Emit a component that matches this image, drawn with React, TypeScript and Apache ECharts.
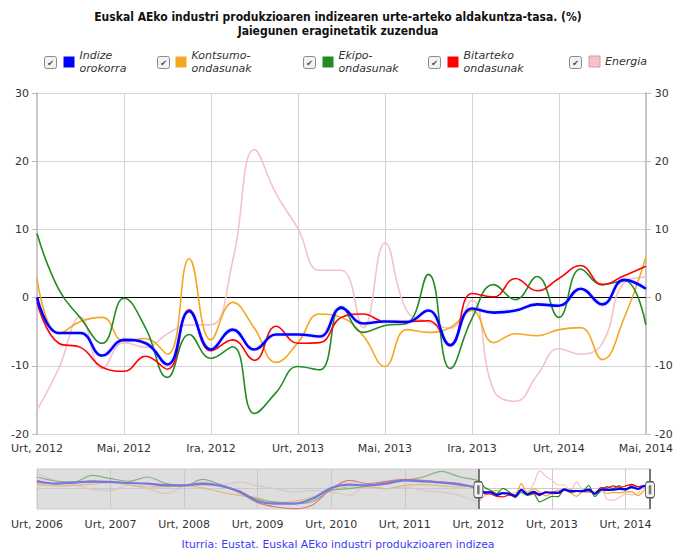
import React, { useEffect, useRef } from "react";
import * as echarts from "echarts";

// ---- Data ----
const monthNames = ["Urt", "Ots", "Mar", "Api", "Mai", "Eka", "Uzt", "Abu", "Ira", "Urr", "Aza", "Abe"];
const categories: string[] = [];
for (let y = 2012; y <= 2014; y++) {
  for (let m = 0; m < 12; m++) {
    if (y === 2014 && m > 4) break;
    categories.push(monthNames[m] + ", " + y);
  }
}

const seriesNames = ["Indize orokorra", "Kontsumo-ondasunak", "Ekipo-ondasunak", "Bitarteko ondasunak", "Energia"];
const legendLabels = ["Indize\norokorra", "Kontsumo-\nondasunak", "Ekipo-\nondasunak", "Bitarteko\nondasunak", "Energia"];
const colors = ["#0000ff", "#f5a623", "#228b22", "#ff0000", "#f4c2c8"];

const indize = [0, -5.2, -5.2, -8.5, -6.2, -6.7, -9.8, -2.0, -7.6, -4.7, -7.6, -5.4, -5.4, -5.7, -1.5, -3.8, -3.5, -3.6, -1.9, -7.0, -1.6, -2.2, -1.9, -1.0, -1.2, 1.3, -1.0, 2.6, 1.3];
const kontsumo = [2.8, -5.3, -3.5, -2.9, -6.4, -6.0, -8.3, 5.7, -6.2, -0.7, -4.5, -9.5, -6.6, -2.4, -2.9, -5.6, -10.1, -4.7, -5.1, -4.4, -1.9, -6.6, -5.3, -5.6, -4.7, -4.4, -9.1, -3.0, 5.9];
const ekipo = [9.4, 1.2, -3.0, -6.7, -0.1, -4.5, -11.7, -5.4, -8.9, -7.2, -17.0, -13.9, -10.1, -10.6, -1.3, -5.1, -4.1, -3.8, 3.4, -10.4, -3.1, 1.9, -0.3, 3.1, -2.9, 4.2, 1.9, 2.5, -4.0];
const bitarteko = [-0.7, -6.7, -7.3, -10.2, -10.8, -8.6, -10.5, -1.8, -7.8, -6.2, -9.2, -4.2, -6.7, -6.6, -2.9, -2.4, -3.5, -3.5, -3.4, -6.9, 0.6, 0.1, 2.8, 1.0, 2.8, 4.7, 1.9, 3.2, 4.6];
const energia = [-16.5, -10.4, -2.8, -10.4, -6.6, -7.3, -5.3, -4.0, -4.0, 5.4, 21.7, 15.2, 10.1, 4.0, 4.0, -4.4, 8.0, -1.9, -3.6, -4.5, -0.4, -13.6, -15.2, -11.4, -7.5, -8.3, -6.7, 2.2, 3.0];
const mainData = [indize, kontsumo, ekipo, bitarteko, energia];

// history for navigator preview (months since Jan 2006, quarterly readings)
const histMonths = [0, 3, 6, 9, 12, 15, 18, 21, 24, 27, 30, 33, 36, 39, 42, 45, 48, 51, 54, 57, 60, 63, 66, 69];
const indizeHist = [9.0, 5.7, 7.0, 8.6, 7.8, 6.5, 5.7, 3.6, 3.6, 5.7, 2.8, -3.9, -16.4, -19.3, -19.3, -13.0, 0.3, 4.4, 3.6, 5.7, 9.8, 8.6, 7.0, 4.4];
const kontsumoHist = [4.4, 3.0, 3.6, 5.0, 7.0, 4.0, 1.5, 2.0, 2.8, 0.3, -4.8, -8.9, -12.2, -18.0, -16.4, -11.0, -2.7, 1.5, 1.5, -0.6, 3.6, 4.4, 2.8, 1.5];
const ekipoHist = [14.0, 9.0, 7.8, 16.0, 12.0, 8.6, 14.0, 6.0, 2.8, 11.0, 4.4, -4.8, -13.9, -17.2, -19.3, -16.4, -2.7, -0.6, 2.8, 7.8, 9.8, 14.0, 21.0, 14.0];
const bitartekoHist = [7.0, 6.0, 7.0, 7.5, 7.8, 6.5, 5.7, 4.5, 3.6, 4.4, 2.8, -5.6, -18.0, -23.5, -25.6, -20.6, -0.6, 9.8, 5.7, 8.6, 11.0, 9.8, 7.8, 5.7];
const energiaHist = [18.2, 9.8, 4.4, -1.4, -2.7, 3.6, -0.6, -6.8, 2.8, 7.0, 3.6, 7.8, 2.8, -0.6, -4.8, -2.7, -4.8, -8.9, 3.6, -0.6, 1.5, -2.7, -4.8, -8.9];
const histData = [indizeHist, kontsumoHist, ekipoHist, bitartekoHist, energiaHist];

const yTicks = { min: -20, max: 30, interval: 10 };
const navStartYear = 2006;
const selectedStart = 72; // Jan 2012 in months since Jan 2006
const navEnd = 100; // May 2014

const titleLines = ["Euskal AEko industri produkzioaren indizearen urte-arteko aldakuntza-tasa. (%)", "Jaiegunen eraginetatik zuzendua"];
const sourceText = "Iturria: Eustat. Euskal AEko industri produkzioaren indizea";

const FONT = "DejaVu Sans, Verdana, sans-serif";

export default function App() {
  const ref = useRef<HTMLDivElement>(null);
  useEffect(() => {
    if (!ref.current) return;
    const chart = echarts.init(ref.current, undefined, { renderer: "svg" });

    const legendLefts = [63.5, 175.5, 322.5, 447.5, 588.5];
    const checkX = [44, 157, 303, 428, 569];

    const legends = seriesNames.map((n, i) => ({
      left: legendLefts[i],
      top: i === 4 ? 55 : 49,
      padding: 0,
      orient: "horizontal",
      selectedMode: false,
      icon: "rect",
      itemWidth: 11,
      itemHeight: 11,
      data: [n],
      formatter: () => legendLabels[i],
      itemStyle: i === 4
        ? { borderColor: "#d99aa4", borderWidth: 1, shadowBlur: 0, shadowColor: "transparent" }
        : { shadowBlur: 0, shadowColor: "transparent" },
      lineStyle: { shadowBlur: 0, shadowColor: "transparent" },
      textStyle: { fontFamily: FONT, fontSize: 11, fontStyle: "italic", color: "#333", lineHeight: 13 },
    }));

    const mainOrder = [4, 1, 2, 3, 0];
    const mainSeries: any[] = mainOrder.map((k) => ({
      name: seriesNames[k],
      type: "line",
      xAxisIndex: 0,
      yAxisIndex: 0,
      data: mainData[k],
      smooth: 0.45,
      symbol: "none",
      z: k === 0 ? 6 : 3,
      lineStyle: k === 0
        ? { color: colors[k], width: 2.6, shadowColor: "rgba(90,90,255,0.3)", shadowBlur: 2 }
        : { color: colors[k], width: 1.6 },
      itemStyle: { color: colors[k] },
      markLine: k === 4 ? {
        silent: true,
        symbol: "none",
        z: 2,
        label: { show: false },
        lineStyle: { color: "#000", width: 1, type: "solid" },
        data: [{ yAxis: 0 }],
      } : undefined,
    }));

    const navSeries: any[] = mainOrder.map((k) => ({
      name: "nav-" + seriesNames[k],
      type: "line",
      xAxisIndex: 1,
      yAxisIndex: 2,
      silent: true,
      smooth: 0.3,
      symbol: "none",
      z: 3,
      data: histMonths.map((m, j) => [m, histData[k][j]]).concat(mainData[k].map((v, i) => [selectedStart + i, v])),
      lineStyle: { color: colors[k], width: k === 0 ? 2.2 : 1.2 },
    }));

    const overlaySeries: any[] = [
      {
        name: "nav-overlay",
        type: "line",
        xAxisIndex: 1,
        yAxisIndex: 2,
        data: [],
        silent: true,
        z: 10,
        markArea: {
          silent: true,
          z: 10,
          itemStyle: { color: "rgba(200,200,200,0.6)" },
          data: [[{ xAxis: 0 }, { xAxis: selectedStart }]],
        },
        markLine: {
          silent: true,
          z: 11,
          symbol: "none",
          label: { show: false },
          lineStyle: { color: "#555", width: 1.5, type: "solid" },
          data: [{ xAxis: selectedStart }, { xAxis: navEnd }],
        },
        markPoint: {
          silent: true,
          z: 12,
          symbol: "roundRect",
          symbolSize: [9, 16],
          label: { show: false },
          itemStyle: { color: "#f2f2f2", borderColor: "#555", borderWidth: 1.2 },
          data: [{ coord: [selectedStart, -2] }, { coord: [navEnd, -2] }],
        },
      },
      {
        name: "nav-overlay2",
        type: "line",
        xAxisIndex: 1,
        yAxisIndex: 2,
        data: [],
        silent: true,
        z: 13,
        markPoint: {
          silent: true,
          z: 13,
          symbol: "rect",
          symbolSize: [2.5, 9],
          label: { show: false },
          itemStyle: { color: "#777" },
          data: [{ coord: [selectedStart, -2] }, { coord: [navEnd, -2] }],
        },
      },
    ];

    const axisLabelStyle = { fontFamily: FONT, fontSize: 11, color: "#333" };

    const checkboxes = checkX.map((x) => ({
      type: "group",
      left: x,
      top: 56,
      children: [
        { type: "rect", shape: { x: 0, y: 0, width: 12, height: 12, r: 2 }, style: { fill: "#f2f2f2", stroke: "#8a8a8a", lineWidth: 1 } },
        { type: "text", style: { text: "\u2714", x: 6, y: 6.5, align: "center", verticalAlign: "middle", textAlign: "center", textVerticalAlign: "middle", fontSize: 8, fontFamily: FONT, fill: "#444" } },
      ],
    }));

    chart.setOption({
      animation: false,
      backgroundColor: "#fff",
      title: {
        text: titleLines.join("\n"),
        left: "center",
        top: 5,
        textStyle: { fontFamily: "DejaVu Sans Condensed, " + FONT, fontSize: 12, fontWeight: "bold", color: "#111", lineHeight: 14 },
      },
      legend: legends,
      graphic: [
        ...checkboxes,
        {
          type: "text",
          left: "center",
          top: 539,
          style: { text: sourceText, fontFamily: FONT, fontSize: 10.8, fill: "#3b3bf5" },
        },
      ],
      grid: [
        { left: 37, right: 26, top: 93, bottom: 116, containLabel: false },
        { left: 37, right: 26, top: 469, height: 40, show: true, borderColor: "#ccc", borderWidth: 1, backgroundColor: "#fff", containLabel: false },
      ],
      xAxis: [
        {
          type: "category",
          gridIndex: 0,
          data: categories,
          boundaryGap: false,
          axisLine: { show: true, lineStyle: { color: "#ccc" } },
          axisTick: { show: true, interval: 3, length: 4, lineStyle: { color: "#bbb" } },
          axisLabel: { ...axisLabelStyle, interval: 3, margin: 9 },
          splitLine: { show: true, interval: 3, lineStyle: { color: "#d4d4d4" } },
        },
        {
          type: "value",
          gridIndex: 1,
          min: 0,
          max: navEnd,
          interval: 12,
          axisLine: { show: true, lineStyle: { color: "#ccc" } },
          axisTick: { show: true, length: 4, lineStyle: { color: "#bbb" } },
          axisLabel: {
            ...axisLabelStyle,
            margin: 10,
            formatter: (v: number) => (v % 12 === 0 ? "Urt, " + (navStartYear + v / 12) : ""),
          },
          splitLine: { show: true, lineStyle: { color: "#ccc" } },
        },
      ],
      yAxis: [
        {
          type: "value",
          gridIndex: 0,
          position: "left",
          ...yTicks,
          axisLine: { show: true, lineStyle: { color: "#c8c8c8", width: 2 } },
          axisTick: { show: true, length: 5, lineStyle: { color: "#bbb" } },
          axisLabel: { ...axisLabelStyle, margin: 8 },
          splitLine: { show: true, lineStyle: { color: "#d4d4d4" } },
        },
        {
          type: "value",
          gridIndex: 0,
          position: "right",
          ...yTicks,
          axisLine: { show: true, lineStyle: { color: "#c8c8c8", width: 2 } },
          axisTick: { show: true, length: 5, lineStyle: { color: "#bbb" } },
          axisLabel: { ...axisLabelStyle, margin: 9 },
          splitLine: { show: false },
        },
        {
          type: "value",
          gridIndex: 1,
          min: -26,
          max: 24,
          show: false,
          splitLine: { show: false },
        },
      ],
      series: [...mainSeries, ...navSeries, ...overlaySeries],
    });

    return () => chart.dispose();
  }, []);

  return <div ref={ref} style={{ width: 676, height: 550, position: "absolute", left: 0, top: 0 }} />;
}
